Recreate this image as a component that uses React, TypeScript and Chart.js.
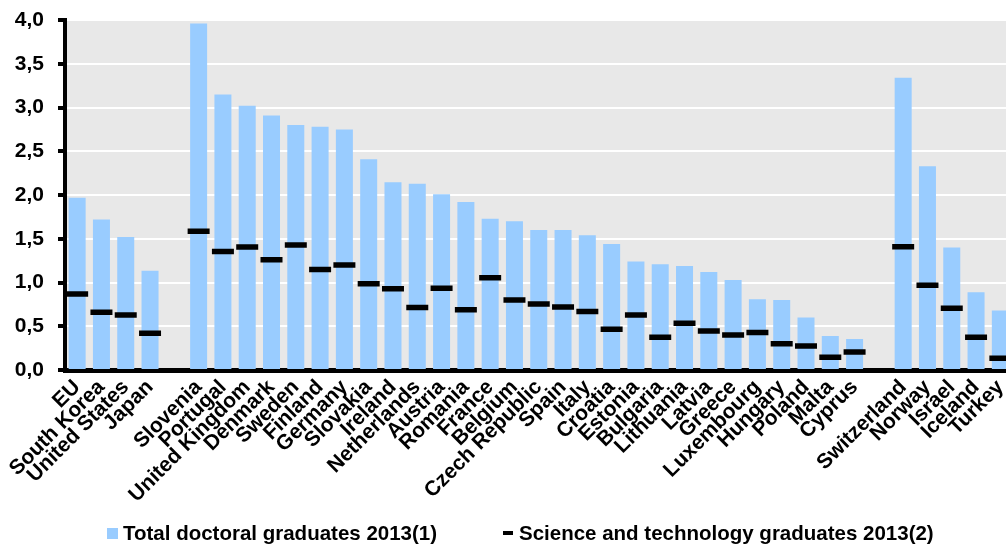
import React, { useEffect, useRef } from 'react';
import { Chart, registerables } from 'chart.js';

Chart.register(...registerables);

const categories = [
  'EU', 'South Korea', 'United States', 'Japan', '',
  'Slovenia', 'Portugal', 'United Kingdom', 'Denmark', 'Sweden', 'Finland', 'Germany',
  'Slovakia', 'Ireland', 'Netherlands', 'Austria', 'Romania', 'France', 'Belgium',
  'Czech Republic', 'Spain', 'Italy', 'Croatia', 'Estonia', 'Bulgaria', 'Lithuania',
  'Latvia', 'Greece', 'Luxembourg', 'Hungary', 'Poland', 'Malta', 'Cyprus', '',
  'Switzerland', 'Norway', 'Israel', 'Iceland', 'Turkey',
];

const totalDoctoral = [
  1.97, 1.72, 1.52, 1.135, null,
  3.96, 3.15, 3.02, 2.91, 2.80, 2.78, 2.75,
  2.41, 2.145, 2.13, 2.01, 1.92, 1.73, 1.70,
  1.60, 1.60, 1.54, 1.44, 1.24, 1.21, 1.19,
  1.12, 1.03, 0.81, 0.80, 0.60, 0.39, 0.355, null,
  3.34, 2.33, 1.40, 0.89, 0.68,
];

const scienceTech = [
  0.87, 0.66, 0.63, 0.42, null,
  1.585, 1.355, 1.405, 1.26, 1.43, 1.15, 1.20,
  0.985, 0.93, 0.715, 0.935, 0.69, 1.055, 0.80,
  0.755, 0.72, 0.67, 0.465, 0.63, 0.375, 0.535,
  0.445, 0.40, 0.43, 0.30, 0.275, 0.145, 0.205, null,
  1.41, 0.97, 0.705, 0.375, 0.135,
];

const seriesNames = ['Total doctoral graduates 2013(1)', 'Science and technology graduates 2013(2)'];
const yMin = 0;
const yMax = 4;
const yStep = 0.5;

const FONT = '"Liberation Sans", Arial, sans-serif';
const BAR_COLOR = '#99ccff';
const PLOT_BG = '#e8e8e8';

const bgPlugin = {
  id: 'plotBg',
  beforeDraw(chart: any) {
    const { ctx, chartArea } = chart;
    ctx.save();
    ctx.fillStyle = PLOT_BG;
    ctx.fillRect(chartArea.left, chartArea.top, chartArea.right - chartArea.left, chartArea.bottom - chartArea.top);
    ctx.restore();
  },
};

const legendPlugin = {
  id: 'customLegend',
  afterDraw(chart: any) {
    const { ctx } = chart;
    ctx.save();
    ctx.font = `bold 20.5px ${FONT}`;
    ctx.textBaseline = 'middle';
    const cy = 533;
    ctx.fillStyle = BAR_COLOR;
    ctx.fillRect(107, cy - 5, 11, 11);
    ctx.fillStyle = '#000';
    ctx.fillText(seriesNames[0], 123, cy + 1);
    ctx.fillRect(503, cy - 2, 10, 4);
    ctx.fillText(seriesNames[1], 519, cy + 1);
    ctx.restore();
  },
};

export default function App() {
  const ref = useRef<HTMLCanvasElement | null>(null);

  useEffect(() => {
    if (!ref.current) return;
    const chart = new Chart(ref.current, {
      type: 'bar',
      data: {
        labels: categories,
        datasets: [
          {
            type: 'line',
            label: seriesNames[1],
            data: scienceTech,
            showLine: false,
            pointStyle: 'line',
            pointRadius: 11,
            pointHoverRadius: 11,
            pointBorderWidth: 5.5,
            pointBorderColor: '#000',
            pointBackgroundColor: '#000',
            borderColor: '#000',
            order: 0,
          } as any,
          {
            type: 'bar',
            label: seriesNames[0],
            data: totalDoctoral,
            backgroundColor: BAR_COLOR,
            barPercentage: 1,
            categoryPercentage: 0.7,
            order: 1,
          },
        ],
      },
      options: {
        responsive: true,
        maintainAspectRatio: false,
        animation: false,
        layout: { padding: { top: 20, right: 0, left: 0, bottom: 0 } },
        plugins: {
          legend: { display: false },
          tooltip: { enabled: false },
        },
        scales: {
          x: {
            offset: true,
            z: 1,
            grid: { display: true, drawOnChartArea: false, drawTicks: false, color: 'rgba(0,0,0,0)' },
            border: { display: true, color: '#000', width: 5 },
            ticks: {
              autoSkip: false,
              minRotation: 45,
              maxRotation: 45,
              padding: 5,
              color: '#000',
              font: { family: FONT, size: 21, weight: 'bold' },
            },
            afterFit(scale: any) {
              scale.height = 547 - 370;
              scale.paddingLeft = 0;
              scale.paddingRight = 0;
            },
          },
          y: {
            min: yMin,
            max: yMax,
            ticks: {
              stepSize: yStep,
              padding: 14,
              color: '#000',
              font: { family: FONT, size: 21, weight: 'bold' },
              callback: (v: any) => Number(v).toFixed(1).replace('.', ','),
            },
            grid: {
              color: '#ffffff',
              lineWidth: 2,
              tickColor: '#000',
              tickWidth: 4,
              tickLength: 7,
            },
            border: { display: true, color: '#000', width: 4 },
            afterFit(scale: any) {
              scale.width = 65;
              scale.paddingTop = 0;
              scale.paddingBottom = 0;
            },
          },
        },
      },
      plugins: [bgPlugin, legendPlugin],
    });
    return () => chart.destroy();
  }, []);

  return (
    <div style={{ position: 'absolute', left: 0, top: 0, width: 1006, height: 547, overflow: 'hidden', background: '#fff' }}>
      <div style={{ position: 'relative', width: 1029, height: 547 }}>
        <canvas ref={ref} />
      </div>
    </div>
  );
}
